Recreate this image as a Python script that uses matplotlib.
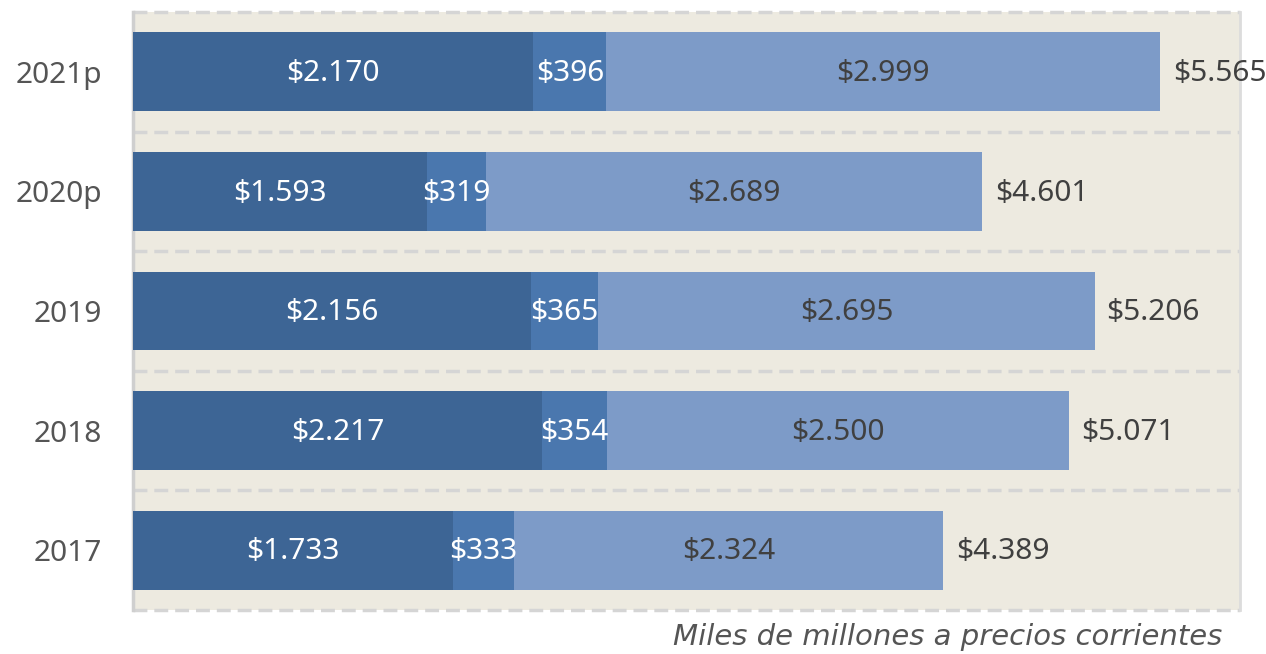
import matplotlib
matplotlib.use("Agg")
import matplotlib.pyplot as plt

years = ["2017", "2018", "2019", "2020p", "2021p"]
seg1 = [1733, 2217, 2156, 1593, 2170]
seg2 = [333, 354, 365, 319, 396]
seg3 = [2324, 2500, 2695, 2689, 2999]
totals = [4389, 5071, 5206, 4601, 5565]

def fmt(v):
    return "$" + f"{v:,}".replace(",", ".")

plt.rcParams['font.family'] = ['Noto Sans', 'DejaVu Sans']

fig = plt.figure(figsize=(12.66, 6.54), dpi=100)
ax = fig.add_axes([133/1266, 1 - 610/654, (1240-133)/1266, (610-12)/654])
ax.set_facecolor("#EDEAE0")

c1, c2, c3 = "#3D6595", "#4A77AE", "#7D9BC8"
y = list(range(len(years)))
h = 0.66
ax.barh(y, seg1, height=h, color=c1, zorder=3)
ax.barh(y, seg2, left=seg1, height=h, color=c2, zorder=3)
left3 = [a + b for a, b in zip(seg1, seg2)]
ax.barh(y, seg3, left=left3, height=h, color=c3, zorder=3)

fs = 21.5
dy = 0.015
for i in y:
    ax.text(seg1[i] / 2, i + dy, fmt(seg1[i]), ha="center", va="center_baseline", color="white", fontsize=fs, zorder=4)
    ax.text(seg1[i] + seg2[i] / 2, i + dy, fmt(seg2[i]), ha="center", va="center_baseline", color="white", fontsize=fs, zorder=4)
    ax.text(left3[i] + seg3[i] / 2, i + dy, fmt(seg3[i]), ha="center", va="center_baseline", color="#404040", fontsize=fs, zorder=4)
    ax.text(totals[i] + 70, i + dy, fmt(totals[i]), ha="left", va="center_baseline", color="#404040", fontsize=fs, zorder=4)

ax.set_xlim(0, 6000)
ax.set_ylim(-0.5, 4.5)
ax.set_yticks(y)
ax.set_yticklabels(years, fontsize=fs, color="#555555")
for t in ax.get_yticklabels():
    t.set_va("center_baseline")
ax.set_xticks([])
ax.tick_params(axis="y", length=0, pad=22)

for g in [-0.5, 0.5, 1.5, 2.5, 3.5, 4.5]:
    ax.axhline(g, color="#D5D5D5", lw=2.5, ls=(0, (4, 2)), zorder=2, clip_on=False)

for s in ["top", "bottom"]:
    ax.spines[s].set_visible(False)
ax.spines["left"].set_color("#CFCFCF")
ax.spines["left"].set_linewidth(2.5)
ax.spines["right"].set_color("#DCDCDC")
ax.spines["right"].set_linewidth(2)

fig.text(1222/1266, 1 - 637/654, "Miles de millones a precios corrientes", ha="right", va="center",
         fontsize=21, style="italic", color="#555555", family=["DejaVu Sans"])

fig.savefig("out.png", dpi=100)
